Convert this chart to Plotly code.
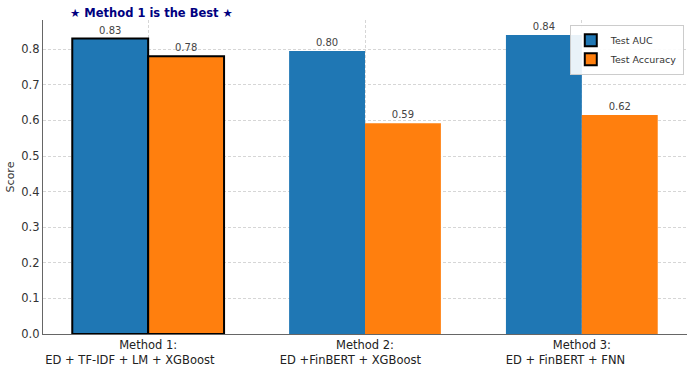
import plotly.graph_objects as go

NB = "\u00a0"
methods = ["Method 1:<br>ED + TF-IDF + LM + XGBoost" + NB * 10,
           "Method 2:<br>ED +FinBERT + XGBoost" + NB * 8,
           "Method 3:<br>ED + FinBERT + FNN" + NB * 9]
auc = [0.83, 0.795, 0.84]
acc = [0.78, 0.592, 0.615]
auc_labels = ["0.83", "0.80", "0.84"]
acc_labels = ["0.78", "0.59", "0.62"]

xpos = [0, 1, 2]
width = 0.35
edge_w = [2, 0, 0]

fig = go.Figure()
fig.add_trace(go.Bar(
    x=[p - width / 2 for p in xpos], y=auc, width=width, name="Test AUC",
    marker=dict(color="#1f77b4", line=dict(color="black", width=edge_w)),
    text=auc_labels, textposition="outside", cliponaxis=False,
    textfont=dict(color="#444444", size=10)))
fig.add_trace(go.Bar(
    x=[p + width / 2 for p in xpos], y=acc, width=width, name="Test Accuracy",
    marker=dict(color="#ff7f0e", line=dict(color="black", width=edge_w)),
    text=acc_labels, textposition="outside", cliponaxis=False,
    textfont=dict(color="#444444", size=10)))

fig.update_layout(
    width=690, height=366,
    margin=dict(l=43, r=3, t=20, b=32),
    paper_bgcolor="white", plot_bgcolor="white",
    font=dict(family="DejaVu Sans", size=11, color="#222222"),
    barmode="overlay",
    showlegend=True,
    legend=dict(x=0.995, y=0.985, xanchor="right", yanchor="top",
                bgcolor="rgba(255,255,255,0.9)", bordercolor="#cccccc", borderwidth=1,
                font=dict(size=9.5, color="#333333"), tracegroupgap=0, itemwidth=30),
    xaxis=dict(range=[-0.485, 2.485], tickmode="array", tickvals=xpos, ticktext=methods,
               showgrid=True, gridcolor="#d6d6d6", griddash="3px,2px", gridwidth=0.7,
               showline=True, linecolor="#666666", linewidth=1.3, ticks="",
               automargin=False,
               tickfont=dict(size=11.5, color="#222222"), zeroline=False),
    yaxis=dict(range=[0, 0.882], dtick=0.1, tickformat=".1f",
               showgrid=True, gridcolor="#d6d6d6", griddash="3px,2px", gridwidth=0.7,
               showline=True, linecolor="#666666", linewidth=1.3, ticks="",
               automargin=False,
               tickfont=dict(size=11.5, color="#333333"), zeroline=False,
               title=dict(text="Score", font=dict(size=11, color="#333333"), standoff=4)),
    annotations=[dict(text="<b>★ Method 1 is the Best ★</b>", x=0.169, y=1.0,
                      xref="paper", yref="paper", xanchor="center", yanchor="middle",
                      showarrow=False, yshift=7,
                      font=dict(size=11.5, color="#000080"))],
)

fig.write_html("out.html", config={"displayModeBar": False},
               post_script="document.body.style.margin='0';document.body.style.padding='0';")
